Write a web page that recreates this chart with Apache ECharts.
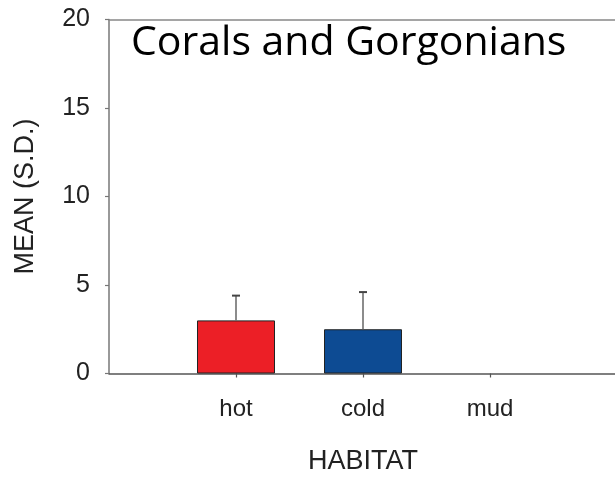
<!DOCTYPE html>
<html>
<head>
<meta charset="utf-8">
<script src="https://cdn.jsdelivr.net/npm/echarts@6/dist/echarts.min.js"></script>
<style>
  html, body { margin: 0; padding: 0; background: #fff; }
  #chart { width: 615px; height: 477px; }
</style>
</head>
<body>
<div id="chart"></div>
<script>
// Habitat categories (blank slots pad the axis on both ends)
const categories = ['', 'hot', 'cold', 'mud', ''];
// Mean abundance per habitat and its standard deviation
const means = [null, 3.0, 2.5, 0, null];
const sds = [null, 1.4, 2.1, 0, null];
const barColors = ['#EC1F26', '#EC1F26', '#0D4B93', '#888888', '#888888'];
const yTicks = { min: 0, max: 20, step: 5 };

const chart = echarts.init(document.getElementById('chart'));

const barData = means.map((m, i) => m === null ? null : {
  value: m,
  itemStyle: { color: barColors[i], borderWidth: m > 0 ? 1 : 0 }
});

const errData = [];
means.forEach((m, i) => {
  if (m !== null && sds[i] > 0) errData.push([i, m, m + sds[i]]);
});

const labelFont = 'Liberation Sans, Arial, sans-serif';

chart.setOption({
  animation: false,
  backgroundColor: '#ffffff',
  graphic: [{
    type: 'text',
    left: 131,
    top: 23,
    style: {
      text: 'Corals and Gorgonians',
      font: '41px "Open Sans"',
      fill: '#000'
    }
  }],
  grid: { left: 109, top: 19.5, width: 508, height: 354, outerBoundsMode: 'none', containLabel: false },
  xAxis: [{
    type: 'category',
    data: categories,
    boundaryGap: false,
    position: 'bottom',
    axisLine: { lineStyle: { color: '#555', width: 1.5 } },
    axisTick: {
      length: 4,
      interval: (i) => i >= 1 && i <= 3,
      lineStyle: { color: '#555', width: 1.2 }
    },
    axisLabel: {
      interval: (i) => i >= 1 && i <= 3,
      margin: 24,
      fontFamily: labelFont,
      fontSize: 24,
      color: '#222'
    },
    name: 'HABITAT',
    nameLocation: 'middle',
    nameGap: 75,
    nameTextStyle: { fontFamily: labelFont, fontSize: 27, color: '#222' },
    splitLine: { show: false }
  }, {
    type: 'category',
    data: categories,
    boundaryGap: false,
    position: 'top',
    axisLine: { lineStyle: { color: '#888', width: 1.5 } },
    axisTick: { show: false },
    axisLabel: { show: false },
    splitLine: { show: false }
  }],
  yAxis: {
    type: 'value',
    min: yTicks.min,
    max: yTicks.max,
    interval: yTicks.step,
    axisLine: { show: true, lineStyle: { color: '#777', width: 1.5 } },
    axisTick: { show: true, length: 4, lineStyle: { color: '#777', width: 1.2 } },
    axisLabel: {
      margin: 19,
      fontFamily: labelFont,
      fontSize: 25,
      color: '#222'
    },
    splitLine: { show: false },
    name: 'MEAN (S.D.)',
    nameLocation: 'middle',
    nameGap: 70,
    nameTextStyle: { fontFamily: labelFont, fontSize: 27, color: '#222' }
  },
  series: [{
    type: 'bar',
    data: barData,
    barWidth: 78,
    itemStyle: { borderColor: '#222', borderWidth: 1 },
    z: 2
  }, {
    type: 'custom',
    data: errData,
    z: 3,
    renderItem: function (params, api) {
      const base = api.coord([api.value(0), api.value(1)]);
      const top = api.coord([api.value(0), api.value(2)]);
      const half = 4;
      return {
        type: 'group',
        children: [{
          type: 'line',
          shape: { x1: base[0], y1: base[1], x2: top[0], y2: top[1] },
          style: { stroke: '#666', lineWidth: 1.5 }
        }, {
          type: 'line',
          shape: { x1: top[0] - half, y1: top[1], x2: top[0] + half, y2: top[1] },
          style: { stroke: '#444', lineWidth: 2 }
        }]
      };
    }
  }]
});
</script>
</body>
</html>
